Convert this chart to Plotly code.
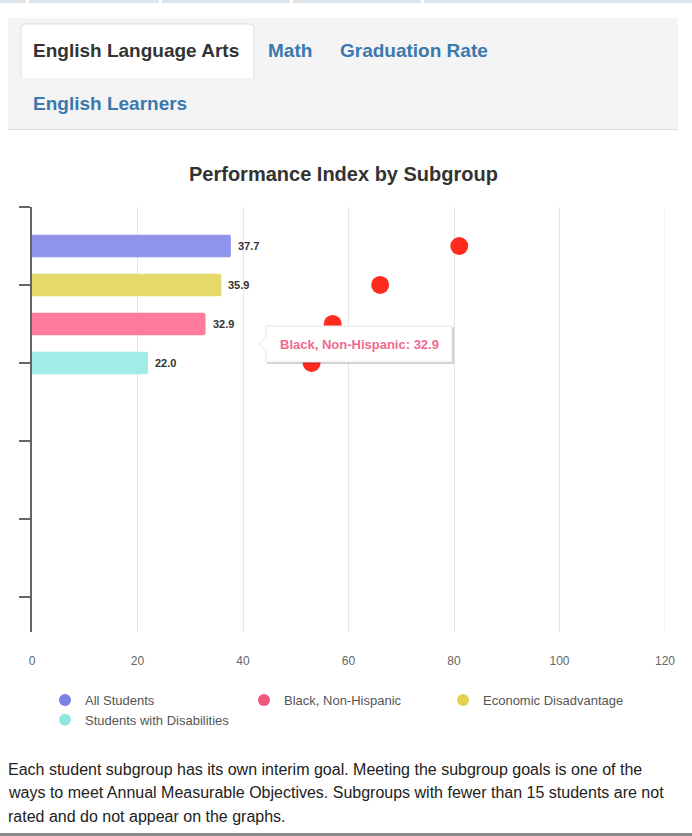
import plotly.graph_objects as go

# ---- data ----
bar_groups = ["All Students", "Economic Disadvantage", "Black, Non-Hispanic", "Students with Disabilities"]
bar_values = [37.7, 35.9, 32.9, 22.0]
goal_values = [81.0, 66.0, 57.0, 53.0]
bar_colors = ["#8f95ea", "#e6d96b", "#ff7b9d", "#a1ece6"]
legend_groups = ["All Students", "Black, Non-Hispanic", "Economic Disadvantage", "Students with Disabilities"]
legend_colors = ["#7c80e4", "#f0577e", "#e3d04f", "#90e6de"]
x_ticks = [0, 20, 40, 60, 80, 100, 120]
tabs_row1 = ["English Language Arts", "Math", "Graduation Rate"]
tabs_row2 = ["English Learners"]
tooltip_text = "Black, Non-Hispanic: 32.9"
footnote = [
    "Each student subgroup has its own interim goal. Meeting the subgroup goals is one of the",
    "ways to meet Annual Measurable Objectives. Subgroups with fewer than 15 students are not",
    "rated and do not appear on the graphs.",
]

W, H = 692, 836
L, R, T, B = 32, 665, 207, 632
FONT = "Liberation Sans, Arial, Helvetica, sans-serif"


def px(x):
    return (x - L) / (R - L)


def py(y):
    return (B - y) / (B - T)


row_pos = list(range(1, len(bar_groups) + 1))

fig = go.Figure()

fig.add_trace(go.Bar(
    x=bar_values, y=row_pos, orientation="h", width=0.58,
    marker=dict(color=bar_colors, line=dict(width=0), cornerradius=2),
    showlegend=False, hoverinfo="skip",
))

fig.add_trace(go.Scatter(
    x=goal_values, y=row_pos, mode="markers",
    marker=dict(size=18, color="#ff2b1f"),
    showlegend=False, hoverinfo="skip",
))

for name, col in zip(legend_groups, legend_colors):
    fig.add_trace(go.Scatter(
        x=[None], y=[None], mode="markers", name=name,
        marker=dict(size=13, color=col, symbol="circle"),
    ))

annotations = []
for v, r in zip(bar_values, row_pos):
    annotations.append(dict(
        x=v, y=r, xref="x", yref="y", text=f"<b>{v:.1f}</b>", showarrow=False,
        xanchor="left", xshift=5, font=dict(size=11, color="#333", family=FONT),
    ))

shapes = []
# right-edge gridline (x = 120)
shapes.append(dict(type="line", xref="x", yref="paper", x0=x_ticks[-1], x1=x_ticks[-1], y0=0, y1=1,
                   line=dict(color="#e6e6e6", width=1), layer="below"))
# top nav strip
for x0, x1 in [(0, 26), (29, 159), (162, 290), (293, 421), (424, 692)]:
    shapes.append(dict(type="rect", xref="paper", yref="paper", x0=px(x0), x1=px(x1),
                       y0=py(3), y1=py(0), fillcolor="#dde4ea", line=dict(width=0), layer="below"))
# tab panel
shapes.append(dict(type="rect", xref="paper", yref="paper", x0=px(8), x1=px(678), y0=py(129), y1=py(18),
                   fillcolor="#f4f4f4", line=dict(width=0), layer="below"))
shapes.append(dict(type="line", xref="paper", yref="paper", x0=px(8), x1=px(678), y0=py(129.5), y1=py(129.5),
                   line=dict(color="#dddddd", width=1), layer="below"))
# active tab
x0t, x1t, y0t, y1t, rr = 21, 254, 24, 78, 4
path = (f"M {px(x0t)} {py(y1t)} L {px(x0t)} {py(y0t+rr)} Q {px(x0t)} {py(y0t)} {px(x0t+rr)} {py(y0t)} "
        f"L {px(x1t-rr)} {py(y0t)} Q {px(x1t)} {py(y0t)} {px(x1t)} {py(y0t+rr)} L {px(x1t)} {py(y1t)}")
shapes.append(dict(type="path", xref="paper", yref="paper", path=path + " Z",
                   fillcolor="#ffffff", line=dict(width=0), layer="below"))
shapes.append(dict(type="path", xref="paper", yref="paper", path=path,
                   fillcolor="rgba(0,0,0,0)", line=dict(color="#dddddd", width=1), layer="below"))
# bottom rule
shapes.append(dict(type="rect", xref="paper", yref="paper", x0=px(0), x1=px(692), y0=py(836), y1=py(833),
                   fillcolor="#8a8a8a", line=dict(width=0), layer="below"))

# tooltip
tx0, tx1, ty0, ty1 = 266, 452, 326, 362
shapes.append(dict(type="rect", xref="paper", yref="paper", x0=px(tx0 + 1), x1=px(tx1 + 2), y0=py(ty1 + 2), y1=py(ty0 + 1),
                   fillcolor="rgba(0,0,0,0.18)", line=dict(width=0), layer="above"))
shapes.append(dict(type="rect", xref="paper", yref="paper", x0=px(tx0), x1=px(tx1), y0=py(ty1), y1=py(ty0),
                   fillcolor="#ffffff", line=dict(color="#e2e2e2", width=1), layer="above"))
tri = f"M {px(tx0+0.5)} {py(337)} L {px(259)} {py(344)} L {px(tx0+0.5)} {py(351)} Z"
shapes.append(dict(type="path", xref="paper", yref="paper", path=tri,
                   fillcolor="#ffffff", line=dict(color="#e2e2e2", width=1), layer="above"))
shapes.append(dict(type="line", xref="paper", yref="paper", x0=px(tx0), x1=px(tx0), y0=py(351), y1=py(337),
                   line=dict(color="#ffffff", width=1.5), layer="above"))
annotations.append(dict(x=px((tx0 + tx1) / 2), y=py(344), xref="paper", yref="paper",
                        text=f"<b>{tooltip_text}</b>", showarrow=False, xanchor="center", yanchor="middle",
                        font=dict(size=13, color="#f06a8d", family=FONT)))

# tabs
tab1_x = [31, 266, 338]
for t, x in zip(tabs_row1, tab1_x):
    annotations.append(dict(x=px(x), y=py(50), xref="paper", yref="paper", text=f"<b>{t}</b>", showarrow=False,
                            xanchor="left", yanchor="middle",
                            font=dict(size=19, color="#333333" if t == tabs_row1[0] else "#3a78ad", family=FONT)))
annotations.append(dict(x=px(31), y=py(103), xref="paper", yref="paper", text=f"<b>{tabs_row2[0]}</b>",
                        showarrow=False, xanchor="left", yanchor="middle",
                        font=dict(size=19, color="#3a78ad", family=FONT)))

# title
annotations.append(dict(x=px(343), y=py(174), xref="paper", yref="paper", text="<b>Performance Index by Subgroup</b>",
                        showarrow=False, xanchor="center", yanchor="middle",
                        font=dict(size=20, color="#333333", family=FONT)))

# footnote
for i, line in enumerate(footnote):
    annotations.append(dict(x=px(6), y=py(769 + 23.5 * i), xref="paper", yref="paper", text=line, showarrow=False,
                            xanchor="left", yanchor="middle", font=dict(size=16, color="#222222", family=FONT)))

fig.update_layout(
    width=W, height=H,
    margin=dict(l=L, r=W - R, t=T, b=H - B, pad=0),
    paper_bgcolor="#ffffff", plot_bgcolor="#ffffff",
    font=dict(family=FONT, color="#666666"),
    shapes=shapes, annotations=annotations,
    legend=dict(orientation="h", x=px(45), y=py(685), xanchor="left", yanchor="top",
                entrywidth=154, entrywidthmode="pixels", tracegroupgap=0,
                font=dict(size=13, color="#555555", family=FONT), itemsizing="constant",
                bgcolor="rgba(0,0,0,0)"),
    xaxis=dict(range=[0, 120], tickvals=x_ticks, ticktext=[str(v) for v in x_ticks],
               showgrid=True, gridcolor="#e6e6e6", gridwidth=1, zeroline=False, showline=False,
               ticks="", ticklabelstandoff=20, tickfont=dict(size=12, color="#666666", family=FONT),
               fixedrange=True),
    yaxis=dict(range=[10.9, 0], tickvals=[0, 2, 4, 6, 8, 10], showticklabels=False,
               showgrid=False, zeroline=False, showline=True, linecolor="#666666", linewidth=1.5,
               ticks="outside", ticklen=11, tickcolor="#666666", tickwidth=1.5, fixedrange=True),
    hovermode=False,
)

fig.write_html("out.html", config={"displayModeBar": False},
               post_script="document.body.style.margin='0';document.body.style.padding='0';")
